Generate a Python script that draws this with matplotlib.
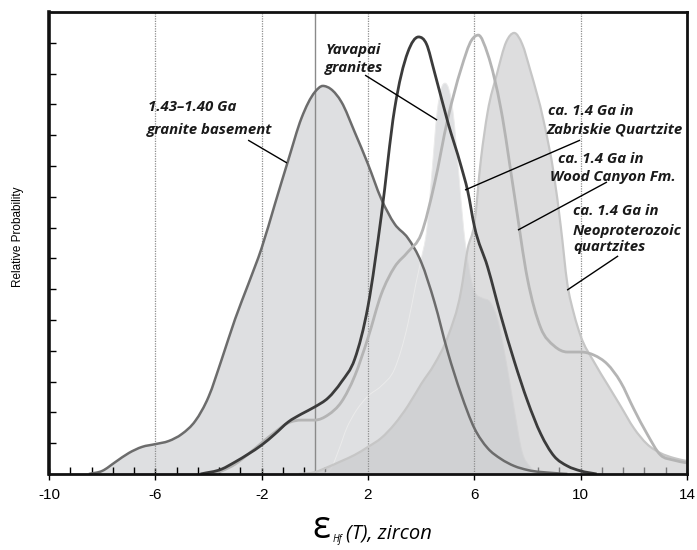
import numpy as np
import matplotlib
matplotlib.use("Agg")
import matplotlib.pyplot as plt
from matplotlib.path import Path
from matplotlib.patches import PathPatch

# ---------------- data ----------------
granite_x = [-8.5, -8.0, -7.5, -7.0, -6.5, -6.0, -5.5, -5.0, -4.5, -4.0, -3.5, -3.0, -2.5, -2.0,
             -1.5, -1.0, -0.5, 0.0, 0.3, 0.6, 1.0, 1.5, 2.0, 2.5, 3.0, 3.5, 4.0, 4.5, 5.0, 5.5,
             6.0, 6.5, 7.0, 7.5, 8.0, 9.0, 9.5]
granite_y = [0.00, 0.10, 0.39, 0.68, 0.88, 0.97, 1.07, 1.30, 1.72, 2.50, 3.73, 5.03, 6.17, 7.34,
             8.77, 10.19, 11.56, 12.40, 12.60, 12.50, 12.08, 11.10, 10.06, 8.93, 8.12, 7.66, 6.88,
             5.58, 3.96, 2.60, 1.49, 0.84, 0.49, 0.26, 0.13, 0.03, 0.00]

yavapai_x = [-4.3, -3.5, -3.0, -2.5, -2.0, -1.5, -1.0, -0.5, 0.0, 0.5, 1.0, 1.5, 2.0, 2.5, 3.0,
             3.5, 3.9, 4.2, 4.5, 5.0, 5.5, 5.75, 6.0, 6.5, 7.0, 7.5, 8.0, 8.5, 9.0, 9.5, 10.0, 10.6]
yavapai_y = [0.00, 0.16, 0.39, 0.65, 0.94, 1.30, 1.69, 1.95, 2.18, 2.47, 2.99, 3.73, 5.45, 8.38,
             11.85, 13.70, 14.19, 13.96, 13.05, 11.43, 10.00, 9.19, 8.05, 6.72, 5.13, 3.67, 2.37,
             1.30, 0.58, 0.26, 0.10, 0.00]

woodcanyon_x = [-3.8, -3.5, -3.0, -2.5, -2.0, -1.5, -1.0, -0.5, 0.0, 0.5, 1.0, 1.5, 2.0, 2.5, 3.0,
                3.5, 4.0, 4.5, 5.0, 5.5, 5.9, 6.15, 6.5, 7.0, 7.5, 8.0, 8.5, 9.0, 9.5, 10.0, 10.5,
                11.0, 11.5, 12.0, 12.5, 13.0, 13.5, 14.0]
woodcanyon_y = [0.00, 0.10, 0.32, 0.65, 1.01, 1.36, 1.66, 1.75, 1.75, 1.92, 2.34, 3.18, 4.42, 5.84,
                6.72, 7.21, 7.79, 9.42, 11.53, 13.15, 14.09, 14.25, 13.64, 11.85, 9.09, 6.33, 4.74,
                4.16, 3.96, 3.96, 3.86, 3.57, 2.99, 2.11, 1.30, 0.62, 0.45, 0.36]

zabriskie_x = [0.3, 0.6, 0.9, 1.2, 1.5, 2.0, 2.5, 3.0, 3.5, 3.8, 4.0, 4.2, 4.4, 4.6, 4.75, 4.9,
               5.05, 5.2, 5.4, 5.6, 5.8, 6.0, 6.3, 6.6, 6.9, 7.2, 7.5, 7.8, 8.1, 8.5]
zabriskie_y = [0.00, 0.16, 0.78, 1.49, 1.98, 2.53, 2.86, 3.41, 4.87, 6.17, 6.98, 7.86, 9.74, 11.75,
               12.50, 12.69, 12.47, 11.75, 9.90, 7.95, 6.66, 5.94, 5.71, 5.58, 4.94, 3.64, 2.11,
               0.71, 0.23, 0.00]

neo_x = [-0.6, 0.0, 0.5, 1.0, 1.5, 2.0, 2.5, 3.0, 3.5, 4.0, 4.5, 5.0, 5.5, 5.75, 6.0, 6.25, 6.5,
         6.85, 7.2, 7.5, 7.8, 8.1, 8.6, 9.0, 9.25, 9.5, 9.75, 10.0, 10.5, 11.0, 11.5, 12.0, 12.5,
         13.0, 13.5, 14.0]
neo_y = [0.00, 0.06, 0.23, 0.42, 0.62, 0.88, 1.17, 1.62, 2.21, 2.92, 3.57, 4.45, 5.94, 7.31, 8.12,
         10.23, 11.75, 12.99, 14.03, 14.32, 13.96, 13.12, 11.49, 9.68, 8.05, 6.17, 5.19, 4.48,
         3.64, 2.92, 2.21, 1.49, 0.97, 0.68, 0.52, 0.42]

xtick_labels = ["-10", "-6", "-2", "2", "6", "10", "14"]
grid_dotted = [-6, -2, 2, 6, 10]
grid_solid = [0]


# ---------------- helpers ----------------
def curve_path(x, y, close=False):
    x = np.asarray(x, float)
    y = np.asarray(y, float)
    n = len(x)
    d = np.diff(y) / np.diff(x)
    m = np.zeros(n)
    m[0], m[-1] = d[0], d[-1]
    for i in range(1, n - 1):
        if d[i - 1] * d[i] <= 0:
            m[i] = 0.0
        else:
            w1 = x[i + 1] - x[i]
            w0 = x[i] - x[i - 1]
            m[i] = (d[i - 1] * w1 + d[i] * w0) / (w0 + w1)
            lim = 3 * min(abs(d[i - 1]), abs(d[i]))
            if abs(m[i]) > lim:
                m[i] = np.sign(m[i]) * lim
    verts = [(x[0], y[0])]
    codes = [Path.MOVETO]
    for i in range(n - 1):
        h = x[i + 1] - x[i]
        verts += [(x[i] + h / 3, y[i] + m[i] * h / 3),
                  (x[i + 1] - h / 3, y[i + 1] - m[i + 1] * h / 3),
                  (x[i + 1], y[i + 1])]
        codes += [Path.CURVE4] * 3
    if close:
        verts += [(x[-1], 0), (x[0], 0), (x[0], y[0])]
        codes += [Path.LINETO, Path.LINETO, Path.CLOSEPOLY]
    return Path(verts, codes)


fig = plt.figure(figsize=(6.97, 5.5), dpi=100)
ax = fig.add_axes([49 / 697, 1 - 474 / 550, (687 - 49) / 697, (474 - 12) / 550])
ax.set_xlim(-10, 14)
ax.set_ylim(0, 15)

# fills
ax.add_patch(PathPatch(curve_path(granite_x, granite_y, True), facecolor="#dedfe1",
                       edgecolor="none", zorder=1))
ax.add_patch(PathPatch(curve_path(zabriskie_x, zabriskie_y, True), facecolor="#dfe0e2",
                       edgecolor="#ebebeb", lw=0.7, zorder=2))
ax.add_patch(PathPatch(curve_path(neo_x, neo_y, True), facecolor="#c8c8ca", alpha=0.62,
                       edgecolor="none", zorder=3))

# grid lines
for g in grid_dotted:
    ax.axvline(g, color="#8e8e8e", lw=0.9, ls=(0, (1, 1)), zorder=4)
for g in grid_solid:
    ax.axvline(g, color="#8a8a8a", lw=1.0, zorder=4)

# outlines
ax.add_patch(PathPatch(curve_path(neo_x, neo_y), facecolor="none", edgecolor="#c6c6c6",
                       lw=1.6, zorder=5))
ax.add_patch(PathPatch(curve_path(granite_x, granite_y), facecolor="none", edgecolor="#6c6c6c",
                       lw=1.8, zorder=6))
ax.add_patch(PathPatch(curve_path(woodcanyon_x, woodcanyon_y), facecolor="none",
                       edgecolor="#b4b4b4", lw=2.0, zorder=6))
ax.add_patch(PathPatch(curve_path(yavapai_x, yavapai_y), facecolor="none", edgecolor="#3b3b3b",
                       lw=2.0, zorder=7))

# pointer lines
pointers = [((-2.51, 10.84), (-1.05, 10.10)),
            ((1.89, 12.95), (4.60, 11.49)),
            ((9.98, 10.84), (5.65, 9.22)),
            ((10.99, 9.48), (7.64, 7.92)),
            ((11.41, 7.08), (9.49, 5.97))]
for (x0, y0), (x1, y1) in pointers:
    ax.plot([x0, x1], [y0, y1], color="black", lw=1.0, zorder=8, solid_capstyle="butt")

# labels
lab = dict(fontfamily="Open Sans", fontweight="bold", fontstyle="italic", fontsize=10.8,
           color="#1a1a1a", ha="left", va="baseline", zorder=9)
texts = [(-6.28, 11.80, "1.43\u20131.40 Ga"),
         (-6.31, 11.04, "granite basement"),
         (0.42, 13.64, "Yavapai"),
         (0.38, 13.05, "granites"),
         (8.77, 11.66, "ca. 1.4 Ga in"),
         (8.72, 11.07, "Zabriskie Quartzite"),
         (9.15, 10.10, "ca. 1.4 Ga in"),
         (8.85, 9.51, "Wood Canyon Fm."),
         (9.71, 8.41, "ca. 1.4 Ga in"),
         (9.71, 7.76, "Neoproterozoic"),
         (9.71, 7.24, "quartzites")]
for x, y, s in texts:
    ax.text(x, y, s, **lab)

# axes styling
for sp in ax.spines.values():
    sp.set_linewidth(2.0)
    sp.set_color("#111111")
    sp.set_zorder(10)
ax.spines["left"].set_linewidth(2.6)

major = list(range(-10, 15, 4))
ax.set_xticks(major)
ax.set_xticklabels(xtick_labels, fontfamily="Liberation Sans", fontsize=11)
ax.set_xticks([-10 + 0.8 * k for k in range(31)], minor=True)
ax.tick_params(axis="x", which="major", direction="inout", length=8, width=1.0, pad=6,
               bottom=True, top=False)
ax.tick_params(axis="x", which="minor", direction="in", length=5, width=1.0,
               bottom=True, top=False)
ax.set_yticks(range(1, 15))
ax.set_yticklabels([])
ax.tick_params(axis="y", which="major", direction="in", length=5, width=1.0, left=True,
               right=False)

fig.text(18 / 697, 1 - 237 / 550, "Relative Probability", rotation=90, ha="center",
         va="center", fontfamily="Liberation Sans", fontsize=8.5)

# x-axis label  (epsilon, subscript Hf, then "(T), zircon")
fig.text(312 / 697, 1 - 538 / 550, "\u03b5", fontfamily="Open Sans", fontsize=27,
         ha="left", va="baseline")
fig.text(333 / 697, 1 - 542 / 550, "Hf", fontfamily="Open Sans", fontstyle="italic",
         fontsize=7, ha="left", va="baseline")
fig.text(346 / 697, 1 - 538 / 550, "(T), zircon", fontfamily="Open Sans", fontstyle="italic",
         fontsize=14.5, ha="left", va="baseline")

fig.savefig("out.png", dpi=100)
